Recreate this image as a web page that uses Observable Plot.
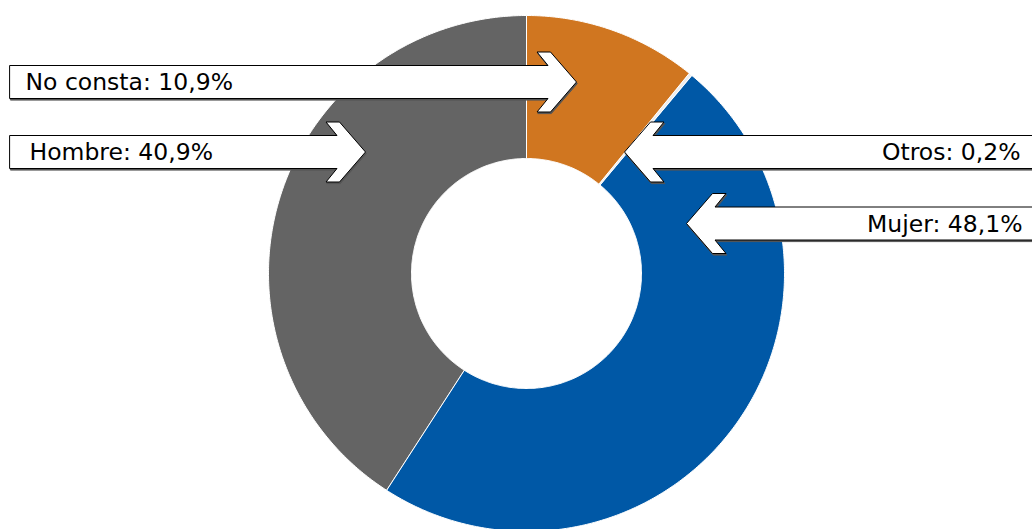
<!DOCTYPE html>
<html><head><meta charset="utf-8">
<script src="https://cdn.jsdelivr.net/npm/d3@7"></script>
<script src="https://cdn.jsdelivr.net/npm/@observablehq/plot@0.6"></script>
<style>html,body{margin:0;padding:0;background:#fff;overflow:hidden}</style>
</head><body><div id="chart"></div>
<script>
// ---- data ----
const categories = ["No consta", "Otros", "Mujer", "Hombre"];
const values = [10.9, 0.2, 48.1, 40.9];
const colors = ["#D07620", "#EDEDED", "#0058A6", "#646464"];

// ---- layout (annotation geometry, pixels) ----
const W = 1032, H = 529;
const center = [526, 273], outerR = 258, innerR = 115;
const arrows = {
  "No consta": {tip: 576, cy: 81.5, tail: 9.5, dir: 1, tx: 25},
  "Hombre":    {tip: 365, cy: 151.5, tail: 9.5, dir: 1, tx: 29},
  "Otros":     {tip: 624, cy: 151.5, tail: 1036, dir: -1, tx: 1020},
  "Mujer":     {tip: 686, cy: 223, tail: 1036, dir: -1, tx: 1022}
};

const esFmt = d3.formatLocale({decimal: ",", thousands: ".", grouping: [3], currency: ["", "€"]}).format(".1f");

// donut polygons from pie angles
const pie = d3.pie().sort(null).value(d => d)(values);
const slices = [];
pie.forEach((p, i) => {
  const n = Math.max(2, Math.ceil((p.endAngle - p.startAngle) / 0.01));
  const pt = (a, r) => ({cat: categories[i], x: center[0] + r * Math.sin(a), y: center[1] - r * Math.cos(a)});
  for (let k = 0; k <= n; k++) slices.push(pt(p.startAngle + (p.endAngle - p.startAngle) * k / n, outerR));
  for (let k = n; k >= 0; k--) slices.push(pt(p.startAngle + (p.endAngle - p.startAngle) * k / n, innerR));
});

// arrow polygons
const sh = 16.5, hh = 30, a = 26, b = 39.5, nn = 28.5;
function arrowPts(cat, dx = 0, dy = 0) {
  const g = arrows[cat], d = g.dir;
  const pts = [
    [g.tail, g.cy - sh], [g.tip - d * nn, g.cy - sh], [g.tip - d * b, g.cy - hh], [g.tip - d * a, g.cy - hh],
    [g.tip, g.cy], [g.tip - d * a, g.cy + hh], [g.tip - d * b, g.cy + hh], [g.tip - d * nn, g.cy + sh], [g.tail, g.cy + sh]
  ];
  return pts.map(([x, y]) => ({cat, x: x + dx, y: y + dy}));
}
const arrowRows = categories.flatMap(c => arrowPts(c));
const shadowRows = categories.flatMap(c => arrowPts(c, 0.8, 1.6));

const labels = categories.map((c, i) => ({
  cat: c, x: arrows[c].tx, y: arrows[c].cy + 0.5, side: arrows[c].dir,
  text: `${c}: ${esFmt(values[i])}%`
}));

const plot = Plot.plot({
  width: W, height: H,
  margin: 0,
  x: {domain: [0, W], range: [0, W], axis: null},
  y: {domain: [0, H], range: [0, H], axis: null},
  color: {domain: categories, range: colors},
  style: {background: "white", fontFamily: "'DejaVu Sans', sans-serif"},
  marks: [
    Plot.line(slices, {x: "x", y: "y", z: "cat", fill: "cat", stroke: "white", strokeWidth: 1, curve: "linear-closed"}),
    Plot.line(shadowRows, {x: "x", y: "y", z: "cat", fill: "#555", stroke: "#555", strokeWidth: 1, curve: "linear-closed"}),
    Plot.line(arrowRows, {x: "x", y: "y", z: "cat", fill: "white", stroke: "#000", strokeWidth: 1, curve: "linear-closed"}),
    Plot.text(labels.filter(d => d.side > 0), {x: "x", y: "y", text: "text", textAnchor: "start", fontSize: 23.5, fill: "#000", ariaLabel: "label"}),
    Plot.text(labels.filter(d => d.side < 0), {x: "x", y: "y", text: "text", textAnchor: "end", fontSize: 23.5, fill: "#000", ariaLabel: "label"})
  ]
});

d3.select(plot).selectAll("g[aria-label=label] text").each(function() {
  const t = this.textContent, i = t.indexOf(":");
  const sel = d3.select(this);
  sel.text(null);
  sel.append("tspan").attr("font-weight", 400).attr("fill", "#000").text(t.slice(0, i + 1));
  sel.append("tspan").attr("font-family", "'DejaVu Sans ExtraLight', 'DejaVu Sans', sans-serif")
    .attr("font-weight", 200).attr("fill", "#444").text(t.slice(i + 1));
});

document.getElementById("chart").append(plot);
</script>
</body></html>
